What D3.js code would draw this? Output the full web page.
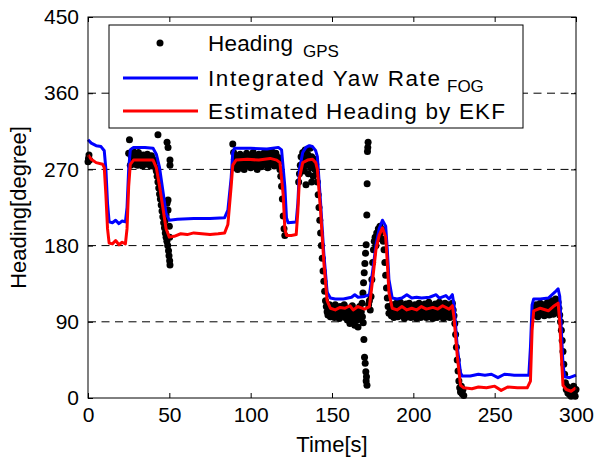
<!DOCTYPE html>
<html>
<head>
<meta charset="utf-8">
<script src="https://cdn.jsdelivr.net/npm/d3@7"></script>
<style>
  body { margin: 0; background: #fff; }
  text { font-family: Arial, "Liberation Sans", sans-serif; fill: #000; }
</style>
</head>
<body>
<div id="chart"></div>
<script>
// ---- data ----
var xTicks = [0, 50, 100, 150, 200, 250, 300];
var yTicks = [0, 90, 180, 270, 360, 450];
var gridLevels = [90, 180, 270, 360];

// integrated yaw rate (FOG) [time, heading]
var fogLine = [[0,305],[2,301],[5,298],[8,297],[10,292],[11,270],[12,230],[13,208],[15,207],[17,210],[19,206],[21,209],[23,208],
  [24,225],[25,270],[26,293],[28,296],[35,296],[40,295],[42,288],[44,272],[46,245],[48,218],[50,210],[55,211],[65,212],[75,212],
  [84,213],[86,222],[88,260],[89,290],[90,295],[100,295],[110,294],[117,296],[119,293],[121,250],[122,213],[123,207],[128,208],
  [129,230],[130,270],[132,290],[134,296],[136,298],[138,297],[140,292],[141,285],[143,230],[145,170],[147,125],[149,118],[152,117],
  [157,117],[162,119],[164,122],[166,119],[170,120],[173,122],[175,150],[177,180],[179,200],[181,210],[183,203],[184,175],[185,140],
  [187,118],[190,117],[193,118],[196,122],[199,118],[202,119],[205,118],[210,119],[214,122],[216,118],[220,121],[222,117],[224,122],
  [225,110],[227,60],[229,30],[230,26],[235,26],[240,28],[244,27],[248,28],[252,24],[256,28],[262,27],[268,27],[271,27],[272,60],
  [273,110],[274,117],[278,117],[283,118],[287,125],[289,129],[290,120],[291,80],[292,40],[293,25],[296,24],[300,27]];

// estimated heading by EKF [time, heading]
var ekfLine = [[0,287],[2,282],[5,278],[9,276],[10,272],[11,240],[12,200],[13,183],[15,182],[17,186],[19,181],[21,184],[23,182],
  [24,200],[25,250],[26,276],[28,281],[35,281],[40,281],[42,272],[44,250],[46,225],[48,200],[50,190],[53,191],[57,194],[61,193],
  [65,195],[70,194],[75,193],[80,194],[84,195],[86,205],[88,250],[89,275],[91,281],[98,282],[105,281],[112,283],[116,281],[118,278],
  [120,240],[121,200],[122,192],[125,192],[128,193],[129,220],[130,260],[132,278],[135,281],[138,282],[140,278],[141,270],[143,220],
  [145,160],[147,115],[149,106],[152,104],[155,107],[158,106],[161,109],[163,104],[166,108],[170,105],[173,108],[175,140],[177,175],
  [179,192],[181,201],[183,190],[184,160],[185,125],[187,106],[190,104],[193,108],[196,104],[199,106],[202,104],[205,108],[208,105],
  [212,107],[215,105],[218,109],[222,105],[224,109],[225,95],[227,50],[229,15],[231,12],[236,11],[240,13],[245,12],[250,14],[254,9],
  [258,13],[264,12],[270,12],[272,20],[273,80],[274,103],[278,106],[283,103],[286,108],[289,112],[290,90],[291,50],[292,15],[294,10],
  [297,8],[300,12]];

// GPS heading samples [time, heading]
var gpsPoints = [[0,279],[0.3,283],[0.6,287],[1,281],
  [25,289],[25.5,305],[26,275],[26.5,286],[27,280],[27.5,292],[28,283],[28.5,276],[29,288],[29.5,279],[30,284],[30.5,275],[31,290],
  [31.5,281],[32,277],[32.5,286],[33,280],[33.5,274],[34,287],[34.5,282],[35,276],[35.5,284],[36,279],[36.5,288],[37,276],[37.5,283],
  [38,280],[38.5,274],[39,286],[39.5,278],[40,282],[40.5,275],[41,279],
  [41.5,272],[42,268],[42.5,262],[43,311],[43,255],[43.5,248],[44,241],[44.5,235],[45,228],[45.5,221],[46,214],[46.5,207],[47,201],
  [47.5,210],[47.5,195],[48,190],[48,216],[48.6,302],[48.6,230],[48.5,185],[49,180],[49.2,296],[49.2,234],[49.2,222],[49.5,174],
  [49.8,168],[50,203],[50.2,162],[50.4,281],[50.4,275],[50.4,157],[50.2,190],
  [89,300],[89.5,290],[90,282],[90.5,272],[91,286],[91.5,278],[92,270],[92.5,284],[93,276],[93.5,288],[94,280],[94.5,273],[95,285],
  [95.5,279],[96,270],[96.5,283],[97,277],[97.5,289],[98,281],[98.5,274],[99,286],[99.5,279],[100,272],[100.5,284],[101,277],
  [101.5,290],[102,281],[102.5,273],[103,285],[103.5,278],[104,270],[104.5,283],[105,288],[105.5,276],[106,281],[106.5,273],[107,285],
  [107.5,279],[108,289],[108.5,276],[109,283],[109.5,290],[110,279],[110.5,272],[111,284],[111.5,288],[112,277],[112.5,282],[113,291],
  [113.5,279],[114,285],[114.5,274],[115,283],[115.5,289],[116,280],[116.5,275],[117,284],[117.5,279],[118,270],
  [118.5,262],[119,250],[119.5,235],[120,215],[120.5,200],[121,192],
  [129.5,255],[130,265],[130.5,275],[131,285],[131.5,272],[132,290],[132.5,280],[133,268],[133.5,293],[134,283],[134,252],[134.5,275],
  [135,288],[135.5,265],[136,280],[136.5,295],[137,272],[137.5,285],[137.5,255],[138,278],[138.5,262],[139,282],[139.5,270],[140,276],
  [140.5,265],[141,255],[141.5,240],[142,225],[142.5,210],[143,195],[143.5,180],[144,165],[144.5,150],[145,138],[145.5,126],[146,115],
  [146.5,108],[147,102],
  [147.5,98],[148,104],[148.5,110],[149,96],[149.5,102],[150,107],[150.5,99],[151,104],[151.5,95],[152,110],[152.5,101],[153,97],
  [153.5,106],[154,100],[154.5,94],[155,108],[155.5,103],[156,97],[156.5,105],[157,100],[157.5,110],[158,95],[158.5,104],[159,99],
  [159.5,92],[160,106],[160.5,97],[161,88],[161.5,102],[162,95],[162.5,109],[163,90],[163.5,100],[164,86],[164.5,97],[165,104],
  [165.5,92],[166,84],[166.5,99],[167,108],[167.5,94],[168,102],
  [168.5,112],[168.7,96],[169,124],[169.2,89],[169.4,136],[169.6,69],[169.8,148],[170,48],[170.2,159],[170.4,41],[170.6,171],[170.8,31],
  [171,181],[171,20],[171.2,25],[171.4,216],[171.5,15],[171.6,253],[171.8,291],[172,296],[172.2,302],
  [172.5,110],[173,115],[173.5,104],[174,120],[174.5,140],[175,160],[175.5,175],[176,185],[176.5,190],[177,180],[177.5,195],[178,188],
  [178.5,200],[179,192],[179.5,203],[180,196],[180.5,188],[181,199],[181.5,185],[182,175],[182.5,160],[183,145],[183.5,130],[184,118],
  [184.5,108],[185,100],
  [186,104],[186.5,97],[187,110],[187.5,101],[188,95],[188.5,106],[189,99],[189.5,112],[190,103],[190.5,96],[191,108],[191.5,100],
  [192,113],[192.5,104],[193,97],[193.5,109],[194,101],[194.5,94],[195,107],[195.5,111],[196,100],[196.5,96],[197,105],[197.5,112],
  [198,102],[198.5,95],[199,108],[199.5,100],[200,104],[200.5,96],[201,110],[201.5,101],[202,94],[202.5,106],[203,99],[203.5,112],
  [204,103],[204.5,95],[205,108],[205.5,100],[206,104],[206.5,97],[207,111],[207.5,102],[208,95],[208.5,107],[209,100],[209.5,113],
  [210,104],[210.5,96],[211,109],[211.5,101],[212,94],[212.5,106],[213,99],[213.5,111],[214,103],[214.5,95],[215,108],[215.5,100],
  [216,113],[216.5,104],[217,97],[217.5,109],[218,101],[218.5,94],[219,106],[219.5,112],[220,99],[220.5,105],[221,96],[221.5,110],
  [222,102],[222.5,95],[223,108],[223.5,100],[224,112],[224.5,104],[225,97],
  [225.5,88],[226,75],[226.5,60],[227,45],[227.5,32],[228,20],[228.5,12],[229,7],[229.5,14],[230,5],[230.5,10],[231,3],
  [274.5,98],[275,105],[275.5,110],[276,100],[276.5,96],[277,108],[277.5,103],[278,112],[278.5,99],[279,106],[279.5,101],[280,110],
  [280.5,97],[281,104],[281.5,108],[282,100],[282.5,113],[283,105],[283.5,98],[284,109],[284.5,102],[285,115],[285.5,106],[286,99],
  [286.5,111],[287,104],[287.5,117],[288,108],[288.5,101],[289,113],[289.5,106],[290,98],[290.5,90],
  [291,80],[291.5,68],[292,55],[292.5,40],[293,28],[293.5,18],[294,10],[294.5,14],[295,6],[295.5,12],[296,4],[296.5,9],[297,2],
  [297.5,11],[298,5],[298.5,14],[299,7],[299.5,2],[300,10]];

// ---- layout ----
var width = 595, height = 461;
var margin = { top: 17, right: 19, bottom: 63, left: 88 };
var plotW = width - margin.left - margin.right;
var plotH = height - margin.top - margin.bottom;

var svg = d3.select("#chart").append("svg")
    .attr("width", width)
    .attr("height", height);

var g = svg.append("g").attr("transform", "translate(" + margin.left + "," + margin.top + ")");

var x = d3.scaleLinear().domain([0, 300]).range([0, plotW]);
var y = d3.scaleLinear().domain([0, 450]).range([plotH, 0]);

// dashed reference lines
g.selectAll(".grid")
    .data(gridLevels)
    .enter().append("line")
    .attr("x1", 0).attr("x2", plotW)
    .attr("y1", function (d) { return y(d); })
    .attr("y2", function (d) { return y(d); })
    .attr("stroke", "#000")
    .attr("stroke-width", 1)
    .attr("stroke-dasharray", "8,5.5");

// GPS dots
g.append("g").selectAll("circle")
    .data(gpsPoints)
    .enter().append("circle")
    .attr("cx", function (d) { return x(d[0]); })
    .attr("cy", function (d) { return y(d[1]); })
    .attr("r", 3.5)
    .attr("fill", "#000");

var line = d3.line()
    .x(function (d) { return x(d[0]); })
    .y(function (d) { return y(d[1]); });

g.append("path").datum(fogLine)
    .attr("d", line)
    .attr("fill", "none")
    .attr("stroke", "#0000ff")
    .attr("stroke-width", 3)
    .attr("stroke-linejoin", "round");

g.append("path").datum(ekfLine)
    .attr("d", line)
    .attr("fill", "none")
    .attr("stroke", "#ff0000")
    .attr("stroke-width", 3)
    .attr("stroke-linejoin", "round");

// axes: ticks inward on all four sides, box around
function styleAxis(sel) {
    sel.select(".domain").remove();
    sel.selectAll(".tick line").attr("stroke", "#000");
    sel.selectAll("text").attr("font-size", 21).attr("fill", "#000")
        .attr("font-family", "Arial, 'Liberation Sans', sans-serif");
}

g.append("g")
    .attr("transform", "translate(0," + plotH + ")")
    .call(d3.axisBottom(x).tickValues(xTicks).tickSizeInner(-5).tickPadding(9).tickFormat(d3.format("d")))
    .call(styleAxis);

g.append("g")
    .call(d3.axisTop(x).tickValues(xTicks).tickSizeInner(-5).tickFormat(""))
    .call(styleAxis);

g.append("g")
    .call(d3.axisLeft(y).tickValues(yTicks).tickSizeInner(-5).tickPadding(9).tickFormat(d3.format("d")))
    .call(styleAxis);

g.append("g")
    .attr("transform", "translate(" + plotW + ",0)")
    .call(d3.axisRight(y).tickValues(yTicks).tickSizeInner(-5).tickFormat(""))
    .call(styleAxis);

g.append("rect")
    .attr("width", plotW).attr("height", plotH)
    .attr("fill", "none").attr("stroke", "#000").attr("stroke-width", 1);

// axis labels
svg.append("text")
    .attr("x", margin.left + plotW / 2)
    .attr("y", 452)
    .attr("text-anchor", "middle")
    .attr("font-size", 22)
    .text("Time[s]");

svg.append("text")
    .attr("transform", "translate(26," + (margin.top + plotH / 2) + ") rotate(-90)")
    .attr("text-anchor", "middle")
    .attr("font-size", 22)
    .text("Heading[degree]");

// legend
var legend = svg.append("g");
legend.append("rect")
    .attr("x", 109).attr("y", 25)
    .attr("width", 414).attr("height", 103)
    .attr("fill", "#fff").attr("stroke", "#000").attr("stroke-width", 1);

var legendItems = [
    { kind: "dot", y: 43, label: "Heading", len: 85, sub: "GPS", subX: 303 },
    { kind: "line", color: "#0000ff", y: 78, label: "Integrated Yaw Rate", len: 232, sub: "FOG", subX: 447 },
    { kind: "line", color: "#ff0000", y: 111, label: "Estimated Heading by EKF", len: 297, sub: "", subX: 0 }
];

legendItems.forEach(function (d) {
    if (d.kind === "dot") {
        legend.append("circle").attr("cx", 160).attr("cy", d.y).attr("r", 3.5).attr("fill", "#000");
    } else {
        legend.append("line")
            .attr("x1", 123).attr("x2", 198)
            .attr("y1", d.y).attr("y2", d.y)
            .attr("stroke", d.color).attr("stroke-width", 3);
    }
    legend.append("text")
        .attr("x", 208).attr("y", d.y + 8)
        .attr("font-size", 22.5)
        .attr("textLength", d.len)
        .attr("lengthAdjust", "spacing")
        .text(d.label);
    if (d.sub) {
        legend.append("text")
            .attr("x", d.subX).attr("y", d.y + 14)
            .attr("font-size", 17)
            .text(d.sub);
    }
});
</script>
</body>
</html>
